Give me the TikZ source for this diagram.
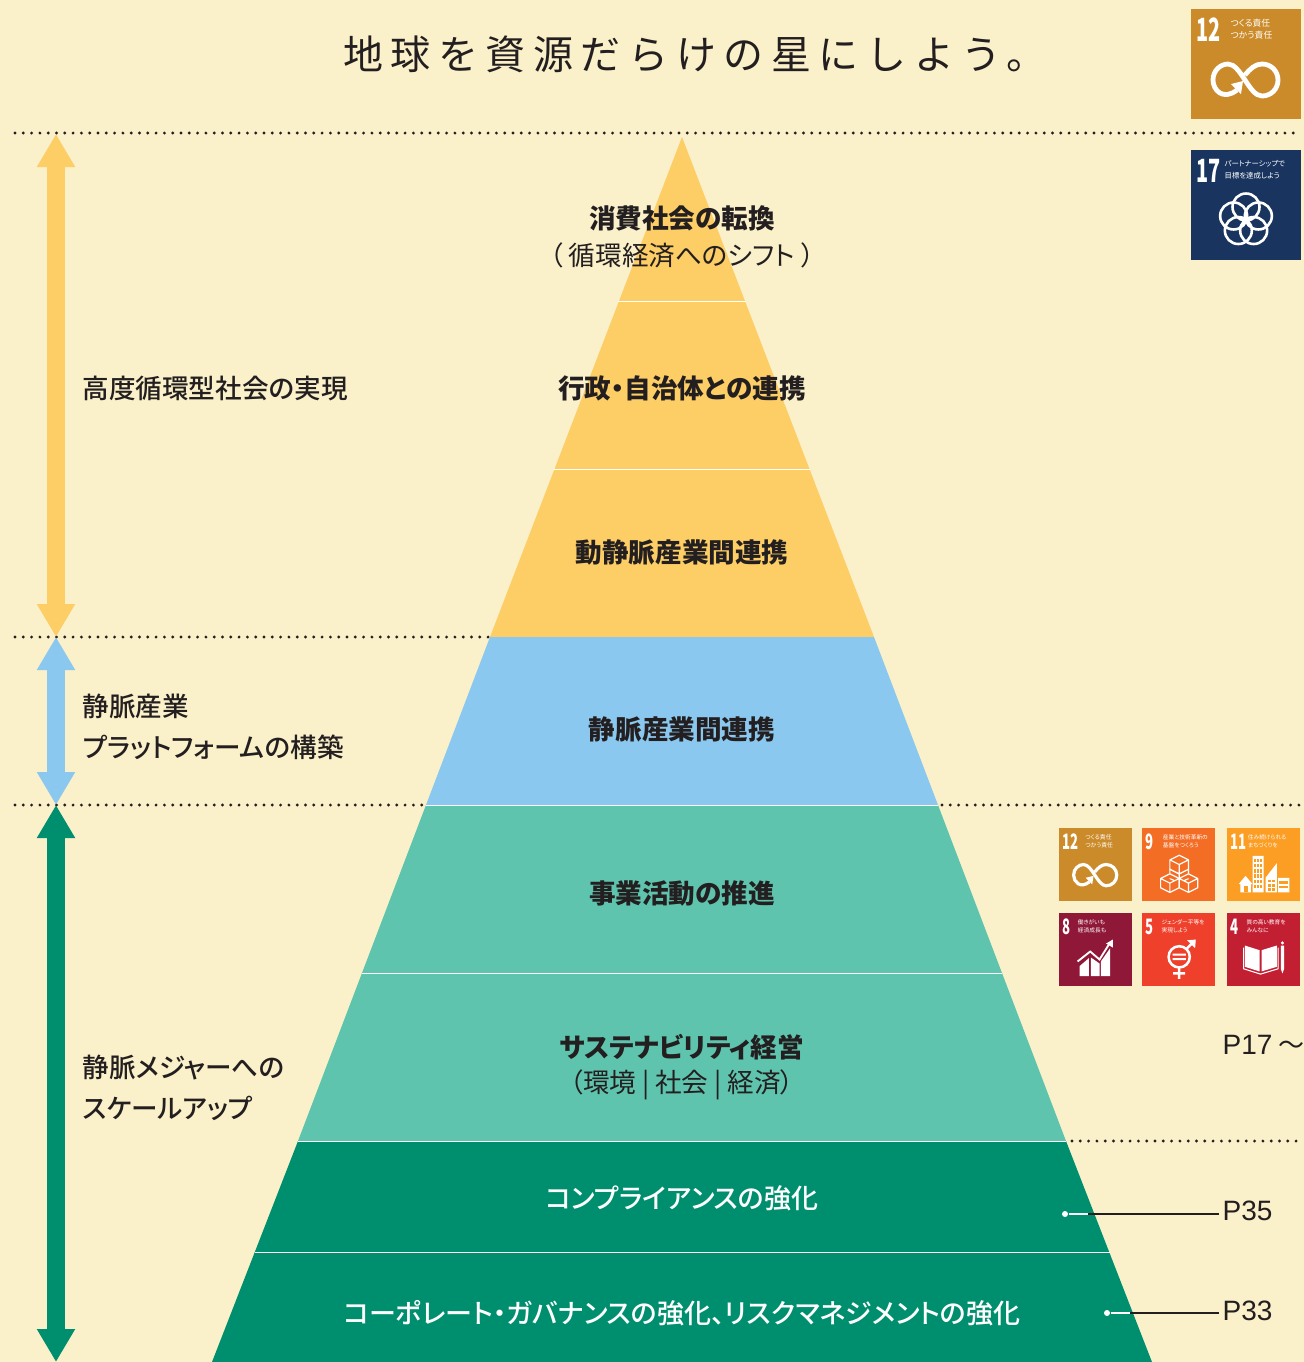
\documentclass[tikz,border=0pt]{standalone}
\usepackage{fontspec}
\setmainfont{Noto Sans CJK JP}[RawFeature={+palt}]
\newfontfamily\jpmedium{Noto Sans CJK JP Medium}[RawFeature={+palt}]
\newfontfamily\jptitle{Noto Sans CJK JP}[LetterSpace=19]
\newfontfamily\latinfont{Liberation Sans}
\usetikzlibrary{arrows.meta}
\definecolor{paper}{RGB}{250,240,201}
\definecolor{ink}{RGB}{35,31,32}
\definecolor{layer_yellow}{RGB}{253,205,102}
\definecolor{layer_blue}{RGB}{139,200,240}
\definecolor{layer_teal}{RGB}{95,196,174}
\definecolor{layer_green}{RGB}{0,143,110}
\definecolor{sdg_four}{RGB}{195,31,51}
\definecolor{sdg_five}{RGB}{239,64,43}
\definecolor{sdg_eight}{RGB}{143,24,56}
\definecolor{sdg_nine}{RGB}{243,109,37}
\definecolor{sdg_eleven}{RGB}{252,157,36}
\definecolor{sdg_twelve}{RGB}{203,139,42}
\definecolor{sdg_seventeen}{RGB}{25,53,95}

% name, x, y, scale, colour, number, text x and size; the icon follows in #9
\newcommand{\sdgbox}[9]{
  \begin{scope}[shift={(#2,#3)},scale=#4]
    \def\sdgs{#4}
    \colorlet{sdg_bg}{#5}
    \fill[sdg_bg] (0,0) rectangle (110,110);
    \node[sdgnum] (#1num) at (5.5,21) {#6};
    \node[sdgtext,font=\fontsize{#8}{6}\selectfont] (#1text) at (#7,20) {\sdglines};
    #9
  \end{scope}
}
\newcommand{\iconloop}{
  \draw[white,line width=\sdgs*2.4pt] (46,81) .. controls (32,92) and (22,81) .. (22,71)
    .. controls (22,61) and (30,55) .. (37,55) .. controls (50,55) and (58,87) .. (71,87)
    .. controls (80,87) and (87,80) .. (87,71) .. controls (87,62) and (80,55) .. (71,55)
    .. controls (64,55) and (59,60) .. (54,66);
  \fill[white] (40,75) -- (52,72) -- (50,85) -- cycle;
}
\newcommand{\iconflower}{
  \foreach \a in {90,162,234,306,18}
    \draw[white,line width=\sdgs*1.3pt] (55,70)++({13*cos(\a)},{-13*sin(\a)}) circle (13.5);
}
\newcommand{\sdgcube}[2]{
  \draw[white,line width=\sdgs*.9pt,fill=sdg_bg,line join=round]
    (#1,#2-14) -- (#1+14,#2-7) -- (#1+14,#2+7) -- (#1,#2+14) -- (#1-14,#2+7) -- (#1-14,#2-7) -- cycle
    (#1-14,#2-7) -- (#1,#2) -- (#1+14,#2-7) (#1,#2) -- (#1,#2+14);
}
\newcommand{\iconcubes}{
  \sdgcube{56}{69}\sdgcube{42}{83}\sdgcube{70}{83}\sdgcube{56}{55}
}
\newcommand{\iconcity}{
  \fill[white] (18,84) -- (28,72) -- (38,84) -- (36,85) -- (36,97) -- (20,97) -- (20,85) -- cycle;
  \fill[sdg_bg] (25,88) rectangle (31,97);
  \fill[white] (38.5,42) rectangle (55,97) (58,75) -- (75,53) -- (75,97) -- (58,97) -- cycle (77,75) rectangle (94,97);
  \foreach \i in {0,1,2} \foreach \j in {0,...,5}
    \fill[sdg_bg] (41+\i*4.7,46+\j*8) rectangle ++(3,5);
  \foreach \i in {0,1} \foreach \j in {0,1,2}
    \fill[sdg_bg] (62+\i*6,78+\j*6.5) rectangle ++(4,4);
  \foreach \j in {0,1} \fill[sdg_bg] (79,80+\j*7) rectangle (92,84+\j*7);
}
\newcommand{\icongrowth}{
  \fill[white] (31,80) -- (45,68) -- (45,95) -- (31,95) -- cycle
    (48,67) -- (61,76) -- (61,95) -- (48,95) -- cycle
    (63,73) -- (77,53) -- (77,95) -- (63,95) -- cycle;
  \draw[white,line width=\sdgs*1.4pt] (28,73) -- (47,58) -- (61,70) -- (76,46);
  \fill[white] (71,46) -- (81,40) -- (81,52) -- cycle;
}
\newcommand{\icongender}{
  \draw[white,line width=\sdgs*1.9pt] (56,66) circle (16) (56,82) -- (56,99) (47,91) -- (65,91) (67,54) -- (78,43);
  \fill[white] (68,41) -- (81,40) -- (80,53) -- cycle (46,61) rectangle (66,64) (46,68) rectangle (66,71);
}
\newcommand{\iconbook}{
  \fill[white] (27,49) -- (49,56) -- (49,88) -- (27,81) -- cycle (52,56) -- (75,49) -- (75,81) -- (52,88) -- cycle;
  \draw[white,line width=\sdgs*.8pt] (25,52) -- (25,84) -- (50.5,92) -- (77,84) -- (77,52);
  \fill[white] (81,49) rectangle (86,84) (81,84) -- (86,84) -- (83.5,91) -- cycle (83.5,45) circle (2.5);
}

\begin{document}
\begin{tikzpicture}[x=0.5pt,y=-0.5pt,semithick]
    \tikzstyle{sdgnum}=[text=white,inner sep=0,anchor=west,xscale=.62,transform shape,font=\fontsize{16}{16}\selectfont\bfseries]
    \tikzstyle{sdgtext}=[text=white,inner sep=0,anchor=west,align=left,transform shape]
    \tikzstyle{layer}=[text=ink,inner sep=0,font=\fontsize{13.3}{13.3}\selectfont\bfseries]
    \tikzstyle{sublayer}=[text=ink,inner sep=0,font=\fontsize{13.3}{13.3}\selectfont]
    \tikzstyle{lowlayer}=[text=white,inner sep=0,font=\fontsize{13.5}{13.5}\selectfont\jpmedium]
    \tikzstyle{phase}=[text=ink,inner sep=0,anchor=west,align=left,font=\fontsize{13.3}{20.8}\selectfont\jpmedium]
    \tikzstyle{page}=[text=ink,inner sep=0,anchor=west,font=\fontsize{14}{14}\latinfont]
    \tikzstyle{dots}=[ink,line width=1.6pt,line cap=round,dash pattern=on 0pt off 4.15pt]
    \tikzstyle{span}=[{Triangle[length=16.5pt,width=18pt]}-{Triangle[length=16.5pt,width=18pt]},line width=9pt]
    \tikzstyle{seam}=[white,line width=.5pt]

    \fill[paper] (0,0) rectangle (1304,1362);
    \useasboundingbox (0,0) rectangle (1304,1362);

    % pyramid
    \fill[layer_yellow] (682,137) -- (874,637) -- (490,637) -- cycle;
    \fill[layer_blue]   (490,637) -- (874,637) -- (938,805) -- (426,805) -- cycle;
    \fill[layer_teal]   (426,805) -- (938,805) -- (1066,1141) -- (298,1141) -- cycle;
    \fill[layer_green]  (298,1141) -- (1066,1141) -- (1152,1362) -- (212,1362) -- cycle;
    \draw[seam] (618,301) -- (746,301);
    \draw[seam] (554,469) -- (810,469);
    \draw[seam] (362,973) -- (1002,973);
    \draw[seam] (298,1141) -- (1066,1141);
    \draw[seam] (255,1252) -- (1110,1252);
    \draw[seam] (426,805) -- (938,805);

    % dotted rules
    \draw[dots] (15,133) -- (1300,133);
    \draw[dots] (15,637) -- (491,637);
    \draw[dots] (15,805) -- (426,805);
    \draw[dots] (942,805) -- (1300,805);
    \draw[dots] (1072,1141) -- (1298,1141);

    % ranges
    \coordinate (r0) at (56,134);
    \coordinate (r1) at (56,637);
    \coordinate (r2) at (56,805);
    \coordinate (r3) at (56,1362);
    \draw[span,layer_yellow] (r0) -- (r1);
    \draw[span,layer_blue] (r1) -- (r2);
    \draw[span,layer_green] (r2) -- (r3);

    \node[text=ink,inner sep=0,font=\fontsize{20}{20}\jptitle] (title) at (695,54) {地球を資源だらけの星にしよう。};

    \node[layer]    (l1)  at (682,218)  {消費社会の転換};
    \node[sublayer] (l1b) at (682,255)  {（\hspace{3pt}循環経済へのシフト\hspace{3pt}）};
    \node[layer]    (l2)  at (682,388)  {行政・自治体との連携};
    \node[layer]    (l3)  at (682,552)  {動静脈産業間連携};
    \node[layer]    (l4)  at (682,729)  {静脈産業間連携};
    \node[layer]    (l5)  at (682,893)  {事業活動の推進};
    \node[layer]    (l6)  at (682,1047) {サステナビリティ経営};
    \node[sublayer] (l6b) at (682,1085) {（環境 | 社会 | 経済）};
    \node[lowlayer] (l7)  at (682,1198) {コンプライアンスの強化};
    \node[lowlayer] (l8)  at (682,1313) {コーポレート・ガバナンスの強化、リスクマネジメントの強化};

    \node[phase] (p1) at (82,388)  {高度循環型社会の実現};
    \node[phase] (p2) at (82,727)  {静脈産業\\プラットフォームの構築};
    \node[phase] (p3) at (82,1088) {静脈メジャーへの\\スケールアップ};

    \node[page] (p17) at (1222,1045) {P17\hspace{3pt}{\fontsize{13}{13}\selectfont\rmfamily ～}};
    \node[page] (p35) at (1222,1211) {P35};
    \node[page] (p33) at (1222,1311) {P33};

    % leaders
    \node[circle,fill=white,inner sep=0,minimum size=3pt] (d35) at (1065,1214) {};
    \node[circle,fill=white,inner sep=0,minimum size=3pt] (d33) at (1107,1313) {};
    \coordinate (e35) at (1088,1214);
    \coordinate (e33) at (1130,1313);
    \draw[white,line width=.6pt] (d35) -- (e35);
    \draw[white,line width=.6pt] (d33) -- (e33);
    \draw[ink,line width=.6pt,shorten >=1.5pt] (e35) -- (e35 -| p35.west);
    \draw[ink,line width=.6pt,shorten >=1.5pt] (e33) -- (e33 -| p33.west);

    % goal tiles
    \def\sdglines{つくる責任\\つかう責任}
    \sdgbox{a}{1191}{9}{1}{sdg_twelve}{12}{39}{4.4}{\iconloop}
    \def\sdglines{パートナーシップで\\目標を達成しよう}
    \sdgbox{b}{1191}{150}{1}{sdg_seventeen}{17}{33}{3.7}{\iconflower}
    \def\sdglines{つくる責任\\つかう責任}
    \sdgbox{c}{1059}{828}{.664}{sdg_twelve}{12}{39}{4.4}{\iconloop}
    \def\sdglines{産業と技術革新の\\基盤をつくろう}
    \sdgbox{d}{1142}{828}{.664}{sdg_nine}{9}{31}{4.3}{\iconcubes}
    \def\sdglines{住み続けられる\\まちづくりを}
    \sdgbox{e}{1227}{828}{.664}{sdg_eleven}{11}{31}{4.3}{\iconcity}
    \def\sdglines{働きがいも\\経済成長も}
    \sdgbox{f}{1059}{913}{.664}{sdg_eight}{8}{28}{4.3}{\icongrowth}
    \def\sdglines{ジェンダー平等を\\実現しよう}
    \sdgbox{g}{1142}{913}{.664}{sdg_five}{5}{29}{4.3}{\icongender}
    \def\sdglines{質の高い教育を\\みんなに}
    \sdgbox{h}{1227}{913}{.664}{sdg_four}{4}{29}{4.3}{\iconbook}
\end{tikzpicture}
\end{document}
